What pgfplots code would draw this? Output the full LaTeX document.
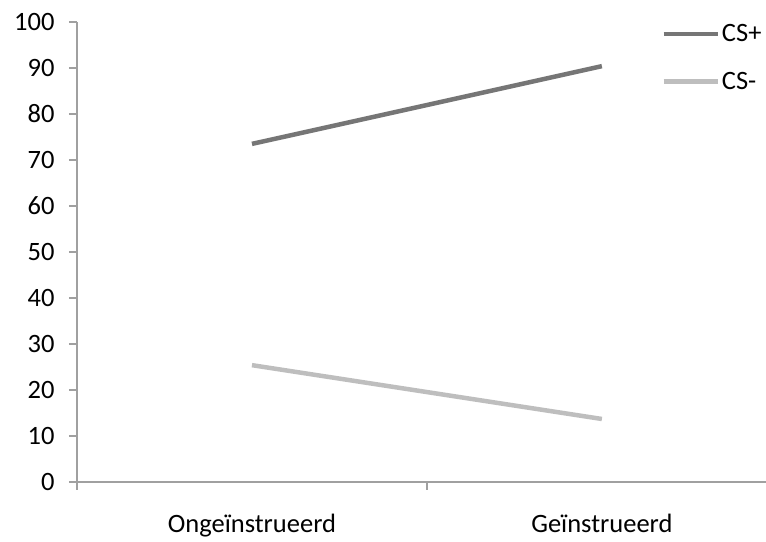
\documentclass[border=0pt]{standalone}
\usepackage{pgfplots}
\pgfplotsset{compat=1.18}
\usepackage{fontspec}
\setmainfont{Carlito}
\definecolor{dark}{RGB}{118,118,118}
\definecolor{light}{RGB}{190,190,190}
\definecolor{axgray}{RGB}{160,160,160}
\begin{document}
\begin{tikzpicture}
\path[use as bounding box] (0,0) rectangle (766bp,542bp);
\begin{axis}[
  at={(77bp,60bp)}, anchor=south west,
  scale only axis, width=689bp, height=460bp,
  xmin=-0.5, xmax=1.469, ymin=0, ymax=100,
  axis lines*=left,
  axis line style={axgray, line width=1.2bp, -},
  every tick/.style={axgray, line width=1.2bp},
  clip=false,
  ytick={0,10,...,100},
  tick align=outside,
  major tick length=8bp,
  xtick={-0.5,0.5}, xticklabels={},
  extra x ticks={0,1},
  extra x tick labels={Ongeïnstrueerd,Geïnstrueerd},
  extra x tick style={major tick length=0pt, xticklabel style={yshift=-29bp}},
  ticklabel style={font=\fontsize{26.5bp}{30bp}\selectfont, text=black},
  yticklabel style={xshift=-11bp},
  /pgf/number format/assume math mode=true,
  legend style={draw=none, fill=none, at={(0.848,0.999)}, anchor=north west,
    font=\fontsize{26.5bp}{30bp}\selectfont, row sep=25bp, inner sep=0pt,
    nodes={inner xsep=2bp, inner ysep=2bp}},
  legend cell align=left,
  legend image code/.code={\draw[#1, line width=4.5bp] (0bp,0bp) -- (54bp,0bp);},
]
\addplot[dark, line width=4.5bp] coordinates {(0,73.5) (1,90.4)};
\addlegendentry{CS+}
\addplot[light, line width=4.5bp] coordinates {(0,25.4) (1,13.7)};
\addlegendentry{CS-}
\end{axis}
\end{tikzpicture}
\end{document}
